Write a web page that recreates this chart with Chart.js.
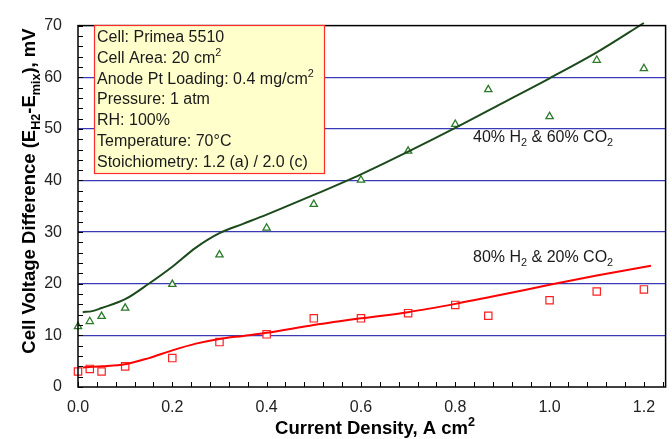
<!DOCTYPE html>
<html>
<head>
<meta charset="utf-8">
<script src="https://cdn.jsdelivr.net/npm/chart.js@4"></script>
<style>
  html, body { margin: 0; padding: 0; background: #fff; }
  #wrap { width: 672px; height: 439px; }
</style>
</head>
<body>
<div id="wrap"><canvas id="chart" width="672" height="439"></canvas></div>
<script>
// measured points
const currentDensity = [0, 0.025, 0.05, 0.1, 0.2, 0.3, 0.4, 0.5, 0.6, 0.7, 0.8, 0.87, 1.0, 1.1, 1.2];
const dv40H2 = [11.7, 12.7, 13.7, 15.3, 19.9, 25.6, 30.8, 35.4, 40.1, 45.7, 50.9, 57.6, 52.4, 63.3, 61.7];
const dv80H2 = [3.0, 3.5, 3.0, 4.0, 5.6, 8.7, 10.2, 13.3, 13.3, 14.3, 15.9, 13.8, 16.8, 18.5, 18.9];

// model curves
const fitX40 = [0.01, 0.03, 0.05, 0.1, 0.15, 0.2, 0.25, 0.3, 0.35, 0.4, 0.5, 0.6, 0.7, 0.8, 0.9, 1.0, 1.1, 1.2];
const fit40 = [14.5, 14.7, 15.3, 17.0, 20.0, 23.3, 27.0, 29.8, 31.6, 33.4, 37.2, 41.2, 45.6, 50.2, 55.0, 59.8, 64.8, 70.5];
const fitX80 = [0.01, 0.05, 0.1, 0.15, 0.2, 0.25, 0.3, 0.35, 0.4, 0.5, 0.6, 0.7, 0.8, 0.9, 1.0, 1.1, 1.215];
const fit80 = [3.8, 4.0, 4.4, 5.6, 7.1, 8.4, 9.3, 9.9, 10.5, 12.0, 13.3, 14.5, 16.1, 17.9, 19.8, 21.6, 23.5];

const xTicks = [0, 0.2, 0.4, 0.6, 0.8, 1.0, 1.2];
const yTicks = [0, 10, 20, 30, 40, 50, 60, 70];

const infoLines = [
  [["Cell: Primea 5510", "n"]],
  [["Cell Area: 20 cm", "n"], ["2", "sup"]],
  [["Anode Pt Loading: 0.4 mg/cm", "n"], ["2", "sup"]],
  [["Pressure: 1 atm", "n"]],
  [["RH: 100%", "n"]],
  [["Temperature: 70\u00B0C", "n"]],
  [["Stoichiometry: 1.2 (a) / 2.0 (c)", "n"]]
];

const FONT = '"Liberation Sans", Arial, Helvetica, sans-serif';

function pts(xs, ys) {
  return xs.map(function (x, i) { return { x: x, y: ys[i] }; });
}

// draw text with sub/superscripts
function richWidth(ctx, segs, size, bold) {
  let w = 0;
  segs.forEach(function (s) {
    const fs = s[1] === 'n' ? size : size * 0.68;
    ctx.font = (bold ? 'bold ' : '') + fs + 'px ' + FONT;
    w += ctx.measureText(s[0]).width;
  });
  return w;
}
function drawRich(ctx, x, y, segs, size, bold, align) {
  let cx = x;
  if (align === 'center') cx = x - richWidth(ctx, segs, size, bold) / 2;
  ctx.textBaseline = 'alphabetic';
  ctx.textAlign = 'left';
  segs.forEach(function (s) {
    const fs = s[1] === 'n' ? size : size * 0.68;
    ctx.font = (bold ? 'bold ' : '') + fs + 'px ' + FONT;
    let dy = 0;
    if (s[1] === 'sub') dy = size * 0.28;
    if (s[1] === 'sup') dy = -size * 0.42;
    ctx.fillText(s[0], cx, y + dy);
    cx += ctx.measureText(s[0]).width;
  });
}

const decorations = {
  id: 'decorations',
  afterDatasetsDraw(chart) {
    const ctx = chart.ctx;
    const a = chart.chartArea;
    const xs = chart.scales.x, ys = chart.scales.y;
    ctx.save();
    // frame
    ctx.strokeStyle = '#000';
    ctx.lineWidth = 1.5;
    ctx.strokeRect(a.left, a.top, a.right - a.left, a.bottom - a.top);
    // inside minor ticks
    ctx.lineWidth = 1;
    ctx.beginPath();
    for (let i = 0; i <= 31; i++) {
      const px = Math.round(xs.getPixelForValue(i * 0.04)) + 0.5;
      if (px > a.right) break;
      ctx.moveTo(px, a.bottom);
      ctx.lineTo(px, a.bottom - 5);
    }
    for (let v = 0; v <= 70; v += 2) {
      const py = Math.round(ys.getPixelForValue(v)) + 0.5;
      ctx.moveTo(a.left, py);
      ctx.lineTo(a.left + 5, py);
    }
    ctx.stroke();

    // info box
    ctx.fillStyle = '#ffffcc';
    ctx.fillRect(94, 25, 230, 148);
    ctx.strokeStyle = '#ff2a2a';
    ctx.lineWidth = 1.2;
    ctx.strokeRect(94.5, 25.5, 230, 148);
    ctx.fillStyle = '#1a1a1a';
    infoLines.forEach(function (segs, i) {
      drawRich(ctx, 97, 42 + i * 20.8, segs, 16, false, 'left');
    });

    // series labels
    ctx.fillStyle = '#1a1a1a';
    drawRich(ctx, 473, 142, [["40% H", "n"], ["2", "sub"], [" & 60% CO", "n"], ["2", "sub"]], 16, false, 'left');
    drawRich(ctx, 473, 262, [["80% H", "n"], ["2", "sub"], [" & 20% CO", "n"], ["2", "sub"]], 16, false, 'left');

    // axis titles
    ctx.fillStyle = '#000';
    drawRich(ctx, 375, 434, [["Current Density, A cm", "n"], ["2", "sup"]], 18.5, true, 'center');
    ctx.translate(35, 191);
    ctx.rotate(-Math.PI / 2);
    drawRich(ctx, 0, 0, [["Cell Voltage Difference (E", "n"], ["H2", "sub"], ["-E", "n"], ["mix", "sub"], ["), mV", "n"]], 18.5, true, 'center');
    ctx.restore();
  }
};

const ctx = document.getElementById('chart').getContext('2d');
new Chart(ctx, {
  type: 'scatter',
  data: {
    datasets: [
      {
        label: '40% H2 model',
        data: pts(fitX40, fit40),
        showLine: true,
        borderColor: '#1c4a1c',
        borderWidth: 2,
        pointRadius: 0,
        cubicInterpolationMode: 'monotone',
        clip: 4
      },
      {
        label: '80% H2 model',
        data: pts(fitX80, fit80),
        showLine: true,
        borderColor: '#ff0000',
        borderWidth: 2,
        pointRadius: 0,
        cubicInterpolationMode: 'monotone'
      },
      {
        label: '40% H2 & 60% CO2',
        data: pts(currentDensity, dv40H2),
        pointStyle: 'triangle',
        pointRadius: 4.2,
        borderWidth: 1.3,
        borderColor: '#2a7a2a',
        backgroundColor: '#fff',
        clip: false
      },
      {
        label: '80% H2 & 20% CO2',
        data: pts(currentDensity, dv80H2),
        pointStyle: 'rect',
        pointRadius: 5.2,
        borderWidth: 1.2,
        borderColor: '#ff2020',
        backgroundColor: '#fff',
        clip: false
      }
    ]
  },
  options: {
    responsive: false,
    animation: false,
    layout: { padding: { top: 16, right: 4, left: 0, bottom: 0 } },
    plugins: {
      legend: { display: false },
      tooltip: { enabled: false }
    },
    scales: {
      x: {
        type: 'linear',
        min: 0,
        max: 1.246,
        afterFit: function (s) { s.height = 52; },
        afterBuildTicks: function (s) { s.ticks = xTicks.map(function (v) { return { value: v }; }); },
        ticks: {
          padding: 11,
          color: '#222',
          font: { family: FONT, size: 16 },
          callback: function (v) { return v.toFixed(1); }
        },
        grid: { display: false, drawTicks: false },
        border: { display: false }
      },
      y: {
        min: 0,
        max: 70,
        afterFit: function (s) { s.width = 78; },
        afterBuildTicks: function (s) { s.ticks = yTicks.map(function (v) { return { value: v }; }); },
        ticks: {
          padding: 16,
          color: '#222',
          font: { family: FONT, size: 16 }
        },
        grid: {
          drawTicks: false,
          lineWidth: 1.3,
          color: function (c) {
            return (c.tick && (c.tick.value === 0 || c.tick.value === 70)) ? 'rgba(0,0,0,0)' : '#3a3ab8';
          }
        },
        border: { display: false }
      }
    }
  },
  plugins: [decorations]
});
</script>
</body>
</html>
